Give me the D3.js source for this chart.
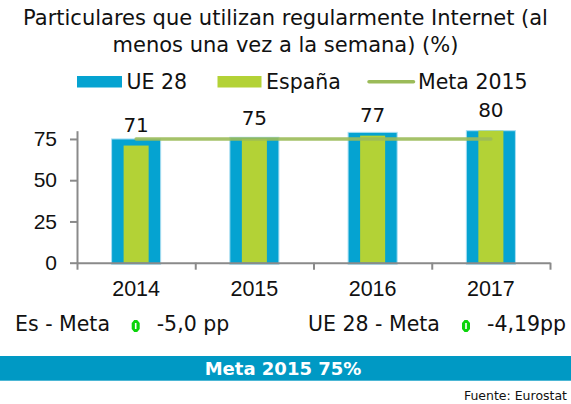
<!DOCTYPE html>
<html>
<head>
<meta charset="utf-8">
<script src="https://cdn.jsdelivr.net/npm/d3@7"></script>
<style>
  body { margin: 0; background: #fff; }
  svg { display: block; font-family: "DejaVu Sans", Verdana, sans-serif; }
</style>
</head>
<body>
<div id="chart"></div>
<script>
var years = ["2014", "2015", "2016", "2017"];
var ue28 = [75, 76, 79, 81];
var espana = [71, 75, 77, 80];
var meta2015 = 75;
var yTicks = [0, 25, 50, 75];
var titleLines = ["Particulares que utilizan regularmente Internet (al", "menos una vez a la semana) (%)"];
var legendItems = ["UE 28", "España", "Meta 2015"];
var gapLabels = [["Es - Meta", "-5,0 pp"], ["UE 28 - Meta", "-4,19pp"]];
var bannerText = "Meta 2015 75%";
var sourceText = "Fuente: Eurostat";

var W = 571, H = 404;
var blue = "#05a3d1", green = "#b3d236", lineGreen = "#9bbb59", axisGrey = "#8a8a8a";

var svg = d3.select("#chart").append("svg").attr("width", W).attr("height", H);

var x = d3.scaleBand().domain(years).range([77, 550]).paddingInner(0.585).paddingOuter(0.2925);
var xEdges = d3.scaleLinear().domain([0, years.length]).range([77, 550]);
var y = d3.scaleLinear().domain([0, 80]).range([262.7, 130.7]).clamp(true);

// title
svg.selectAll(".title").data(titleLines).enter().append("text")
  .attr("x", 285.5).attr("y", function (d, i) { return 24.5 + i * 27; })
  .attr("text-anchor", "middle").style("font-size", "21px").attr("fill", "#111")
  .text(function (d) { return d; });

// legend
var lg = svg.append("g");
lg.append("rect").attr("x", 77).attr("y", 76).attr("width", 45).attr("height", 11.5).attr("fill", blue);
lg.append("text").attr("x", 126.5).attr("y", 88.5).text(legendItems[0]);
lg.append("rect").attr("x", 217.5).attr("y", 76).attr("width", 44).attr("height", 11.5).attr("fill", green);
lg.append("text").attr("x", 266).attr("y", 88.5).text(legendItems[1]);
lg.append("line").attr("x1", 369).attr("x2", 413.5).attr("y1", 81.7).attr("y2", 81.7)
  .attr("stroke", lineGreen).attr("stroke-width", 3.5).attr("stroke-linecap", "round");
lg.append("text").attr("x", 418).attr("y", 88.5).text(legendItems[2]);
lg.selectAll("text").style("font-size", "20.5px").attr("fill", "#111");

// bars
var ueW = x.bandwidth(), esW = x.bandwidth() * 0.51;
svg.selectAll(".ue").data(ue28).enter().append("rect")
  .attr("x", function (d, i) { return x(years[i]); })
  .attr("y", function (d) { return y(d); })
  .attr("width", ueW)
  .attr("height", function (d) { return y(0) - y(d) + 1.5; })
  .attr("fill", blue).attr("stroke", "#a9def2").attr("stroke-width", 1);

svg.selectAll(".es").data(espana).enter().append("rect")
  .attr("x", function (d, i) { return x(years[i]) + (ueW - esW) / 2; })
  .attr("y", function (d) { return y(d); })
  .attr("width", esW)
  .attr("height", function (d) { return y(0) - y(d); })
  .attr("fill", green);

// axes
var yAxis = svg.append("g").attr("transform", "translate(77,0)")
  .call(d3.axisLeft(y).tickValues(yTicks).tickSize(7).tickSizeOuter(0));
yAxis.selectAll("text").style("font-size", "21px").attr("fill", "#111").attr("x", -20);

var xAxis = svg.append("g").attr("transform", "translate(0," + y(0) + ")")
  .call(d3.axisBottom(xEdges).tickValues(d3.range(years.length + 1)).tickFormat("").tickSize(7).tickSizeOuter(0));

var xLabels = svg.append("g").attr("transform", "translate(0," + y(0) + ")")
  .call(d3.axisBottom(x).tickSize(0));
xLabels.select(".domain").remove();
xLabels.selectAll("text").style("font-size", "21.5px").attr("fill", "#111").attr("y", 18).attr("dy", "0.71em");

svg.selectAll(".domain, .tick line").attr("stroke", axisGrey).attr("stroke-width", 2);

// meta line
var metaLine = d3.line()
  .x(function (d) { return x(d) + ueW / 2; })
  .y(function () { return y(meta2015); });
svg.append("path").datum([years[0], years[years.length - 1]])
  .attr("d", metaLine).attr("fill", "none")
  .attr("stroke", lineGreen).attr("stroke-width", 3.5).attr("stroke-linecap", "round").attr("opacity", 0.9);

// value labels (España)
svg.selectAll(".val").data(espana).enter().append("text")
  .attr("x", function (d, i) { return x(years[i]) + ueW / 2; })
  .attr("y", function (d) { return y(d) - 14; })
  .attr("text-anchor", "middle").style("font-size", "20px").attr("fill", "#111")
  .text(function (d) { return d; });

// gap row
var gapPos = [[15, 131.7, 156.7], [308, 462, 487]];
gapLabels.forEach(function (g, i) {
  var p = gapPos[i];
  svg.append("text").attr("x", p[0]).attr("y", 331).style("font-size", "20.5px").attr("fill", "#111").text(g[0]);
  var ic = svg.append("g").attr("transform", "translate(" + (p[1] + 4) + ",326)");
  ic.append("path").attr("d", "M-1.5,-6 L1.5,-6 L4,-3 L4,3 L1.5,6 L-1.5,6 L-4,3 L-4,-3 Z").attr("fill", "#0bd40b");
  ic.append("line").attr("x1", 0).attr("x2", 0).attr("y1", -3).attr("y2", 3).attr("stroke", "#fff").attr("stroke-width", 1.6);
  svg.append("text").attr("x", p[2]).attr("y", 331).style("font-size", "20.5px").attr("fill", "#111").text(g[1]);
});

// banner
svg.append("rect").attr("x", 0).attr("y", 356).attr("width", W).attr("height", 24.7).attr("fill", "#0099c4");
svg.append("text").attr("x", 283).attr("y", 375.3).attr("text-anchor", "middle")
  .style("font-size", "18px").style("font-weight", "bold").attr("fill", "#fff").text(bannerText);

// source
svg.append("text").attr("x", 567).attr("y", 400).attr("text-anchor", "end")
  .style("font-size", "12.5px").attr("fill", "#111").text(sourceText);
</script>
</body>
</html>
